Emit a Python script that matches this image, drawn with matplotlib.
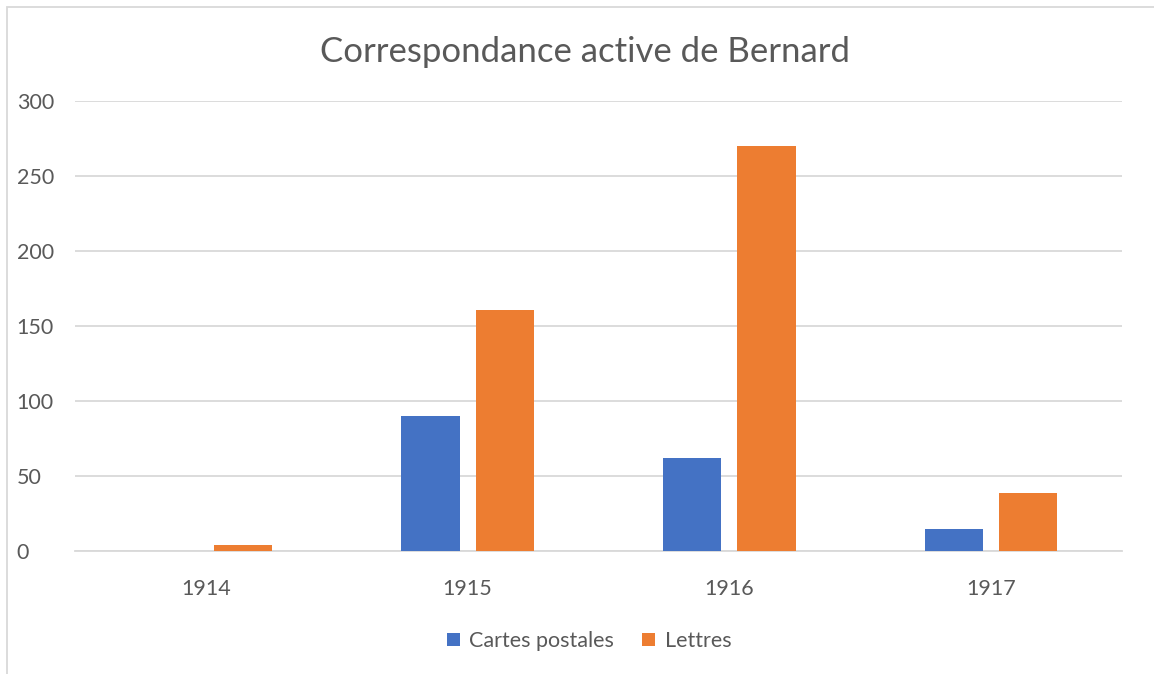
import matplotlib.pyplot as plt
import numpy as np
from matplotlib.patches import Rectangle

years = ["1914", "1915", "1916", "1917"]
cartes = [0, 90, 62, 15]
lettres = [4, 161, 270, 39]

plt.rcParams['font.family'] = ['Lato', 'DejaVu Sans']

fig = plt.figure(figsize=(11.54, 6.74), dpi=100)
ax = fig.add_axes([75/1154, 1-551/674, (1122-75)/1154, (551-101)/674])

x = np.arange(len(years))
w = 0.222
ax.bar(x - 0.142, cartes, w, color="#4472C4", label="Cartes postales", zorder=3)
ax.bar(x + 0.142, lettres, w, color="#ED7D31", label="Lettres", zorder=3)

ax.set_xlim(-0.5, 3.5)
ax.set_ylim(0, 300)
ax.set_yticks(range(0, 301, 50))
ax.set_xticks(x)
ax.set_xticklabels(years)
ax.yaxis.grid(True, color="#D9D9D9", linewidth=1.3, zorder=0)
for s in ["top", "right", "left"]:
    ax.spines[s].set_visible(False)
ax.spines["bottom"].set_color("#D9D9D9")
ax.spines["bottom"].set_linewidth(1.3)
ax.tick_params(axis="both", length=0, labelsize=15.5, labelcolor="#595959")
ax.tick_params(axis="x", pad=20)
ax.tick_params(axis="y", pad=42)
for lab in ax.get_yticklabels():
    lab.set_horizontalalignment("left")

fig.text(585/1154, 1-52/674, "Correspondance active de Bernard", ha="center", va="center",
         fontsize=25, color="#595959")

leg = fig.legend(loc="center", bbox_to_anchor=(589/1154, 1-641/674), ncol=2, frameon=False,
                 fontsize=15.5, handlelength=0.6, handleheight=0.6, columnspacing=1.3,
                 handletextpad=0.45)
for t in leg.get_texts():
    t.set_color("#595959")

fig.patches.append(Rectangle((7/1154, -0.01), 1.0, 1-7/674 + 0.01, transform=fig.transFigure,
                             fill=False, edgecolor="#D9D9D9", linewidth=1.3))

fig.savefig("out.png", dpi=100)
